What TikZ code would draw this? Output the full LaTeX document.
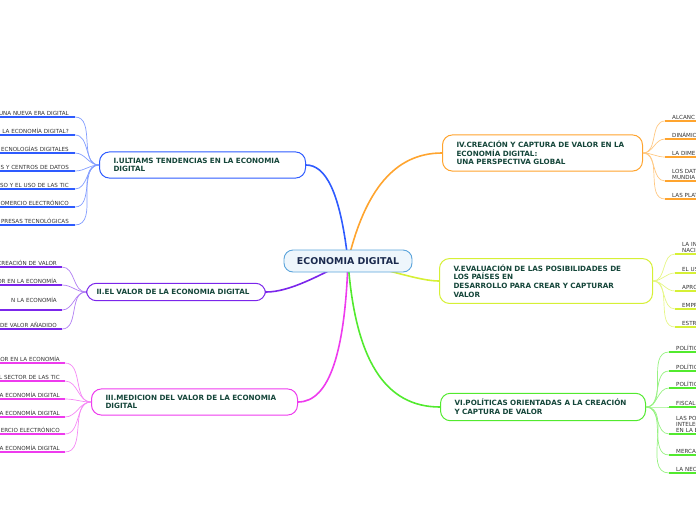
\documentclass[tikz,border=0pt]{standalone}
\usepackage{fontspec}
\setmainfont{DejaVu Sans}
\usepackage{xcolor}
\usepackage{tikz}
\usetikzlibrary{backgrounds}
\definecolor{brI}{HTML}{2E5BFF}
\definecolor{brII}{HTML}{7B26EB}
\definecolor{brIII}{HTML}{EE3BEE}
\definecolor{brIV}{HTML}{FFA42E}
\definecolor{brV}{HTML}{D6F035}
\definecolor{brVI}{HTML}{52EA2E}
\definecolor{ink}{HTML}{15463A}
\definecolor{leafink}{HTML}{333333}
\definecolor{hubline}{HTML}{5BA4DB}
\definecolor{hubfill}{HTML}{EEF6FC}
\definecolor{hubink}{HTML}{1B2A4E}
\tikzset{
  hub/.style={draw=hubline,line width=0.9pt,fill=hubfill,rounded corners=9pt,
    minimum width=128pt,minimum height=22pt,text=hubink,
    font=\fontsize{9.4}{11}\selectfont\bfseries},
  topic/.style={draw=#1,line width=1pt,fill=white,rounded corners=10pt,anchor=west,
    inner xsep=14pt,inner ysep=6pt,align=left,text=ink,
    font=\fontsize{7.2}{8.7}\selectfont\bfseries},
  leafl/.style={anchor=south east,text width=95pt,align=right,inner xsep=6pt,
    inner ysep=1.5pt,text=leafink,font=\fontsize{5.6}{6}\selectfont},
  leafr/.style={anchor=south west,text width=60pt,align=left,inner xsep=7pt,
    inner ysep=1.5pt,text=leafink,font=\fontsize{5.6}{6}\selectfont},
  branch/.style={draw=#1,line width=1.6pt},
  twig/.style={draw=#1!60,line width=0.7pt},
  uline/.style={draw=#1,line width=1.8pt},
}
\begin{document}
\begin{tikzpicture}[x=1pt,y=-1pt]
  \useasboundingbox (0,0) rectangle (696,520);
  % hub and main topics
  \node[hub] (eco) at (348,261) {ECONOMIA DIGITAL};
  \node[topic=brI,text width=178pt] (t1) at (99,165)
    {I.ULTIAMS TENDENCIAS EN LA ECONOMIA\\DIGITAL};
  \node[topic=brII,text width=159pt,inner xsep=10pt] (t2) at (86,292)
    {II.EL VALOR DE LA ECONOMIA DIGITAL};
  \node[topic=brIII,text width=178pt] (t3) at (91,402)
    {III.MEDICION DEL VALOR DE LA ECONOMIA\\DIGITAL};
  \node[topic=brIV,text width=172pt] (t4) at (442,153)
    {IV.CREACIÓN Y CAPTURA DE VALOR EN LA\\ECONOMÍA DIGITAL:\\UNA PERSPECTIVA GLOBAL};
  \node[topic=brV,text width=185pt] (t5) at (439,281)
    {V.EVALUACIÓN DE LAS POSIBILIDADES DE\\LOS PAÍSES EN\\DESARROLLO PARA CREAR Y CAPTURAR\\VALOR};
  \node[topic=brVI,text width=177pt] (t6) at (440,407)
    {VI.POLÍTICAS ORIENTADAS A LA CREACIÓN\\Y CAPTURA DE VALOR};
  \begin{scope}[on background layer]
    \draw[branch=brI] (eco.center) .. controls (340,190) and (325,165) .. (t1.east);
    \draw[branch=brIV] (eco.center) .. controls (365,190) and (395,153) .. (t4.west);
    \draw[branch=brII] (eco.center) .. controls (320,275) and (290,292) .. (t2.east);
    \draw[branch=brIII] (eco.center) .. controls (345,350) and (330,402) .. (t3.east);
    \draw[branch=brVI] (eco.center) .. controls (355,360) and (385,407) .. (t6.west);
    \draw[branch=brV] (eco.center) .. controls (390,270) and (420,281) .. (t5.west);
  \end{scope}
  % left leaves
  \foreach \n/\y/\t in {a1/117/UNA NUEVA ERA DIGITAL,a2/135/LA ECONOMÍA DIGITAL?,
      a3/153/ECNOLOGÍAS DIGITALES,a4/171/S Y CENTROS DE DATOS,
      a5/189/SO Y EL USO DE LAS TIC,a6/207/OMERCIO ELECTRÓNICO,
      a7/225/PRESAS TECNOLÓGICAS} {
    \node[leafl] (\n) at (75,\y) {\t};
    \draw[twig=brI] (t1.west) to[out=180,in=0] (\n.south east);
    \draw[uline=brI] (\n.south west) -- (\n.south east);
  }
  \foreach \n/\y/\t in {b1/267/CREACIÓN DE VALOR,b2/285/OR EN LA ECONOMÍA,
      b3/310/{N LA ECONOMÍA\\\mbox{}},b4/329/DE VALOR AÑADIDO} {
    \node[leafl,inner xsep=5pt] (\n) at (62,\y) {\t};
    \draw[twig=brII] (t2.west) to[out=180,in=0] (\n.south east);
    \draw[uline=brII] (\n.south west) -- (\n.south east);
  }
  \foreach \n/\y/\t in {c1/363/LOR EN LA ECONOMÍA,c2/381/L SECTOR DE LAS TIC,
      c3/399/A ECONOMÍA DIGITAL,c4/417/A ECONOMÍA DIGITAL,
      c5/434/ERCIO ELECTRÓNICO,c6/452/A ECONOMÍA DIGITAL} {
    \node[leafl,inner xsep=5pt] (\n) at (65,\y) {\t};
    \draw[twig=brIII] (t3.west) to[out=180,in=0] (\n.south east);
    \draw[uline=brIII] (\n.south west) -- (\n.south east);
  }
  % right leaves
  \foreach \n/\y/\t in {d1/121/ALCANC,d2/139/DINÁMIC,d3/157/LA DIME,
      d4/181/{LOS DAT\\MUNDIA},d5/199/LAS PLAT} {
    \node[leafr] (\n) at (665,\y) {\t};
    \draw[twig=brIV] (t4.east) to[out=0,in=180] (\n.south west);
    \draw[uline=brIV] (\n.south west) -- (\n.south east);
  }
  \foreach \n/\y/\t in {e1/254/{LA IN\\NACI},e2/273/EL US,e3/291/APRO,
      e4/309/EMPR,e5/327/ESTR} {
    \node[leafr] (\n) at (675,\y) {\t};
    \draw[twig=brV] (t5.east) to[out=0,in=180] (\n.south west);
    \draw[uline=brV] (\n.south west) -- (\n.south east);
  }
  \foreach \n/\y/\t in {f1/352/POLÍTIC,f2/371/POLÍTIC,f3/388/POLÍTIC,
      f4/407/FISCAL,f5/434/{LAS PO\\INTELEC\\EN LA E},f6/455/MERCA,
      f7/473/LA NEC} {
    \node[leafr] (\n) at (669,\y) {\t};
    \draw[twig=brVI] (t6.east) to[out=0,in=180] (\n.south west);
    \draw[uline=brVI] (\n.south west) -- (\n.south east);
  }
\end{tikzpicture}
\end{document}
